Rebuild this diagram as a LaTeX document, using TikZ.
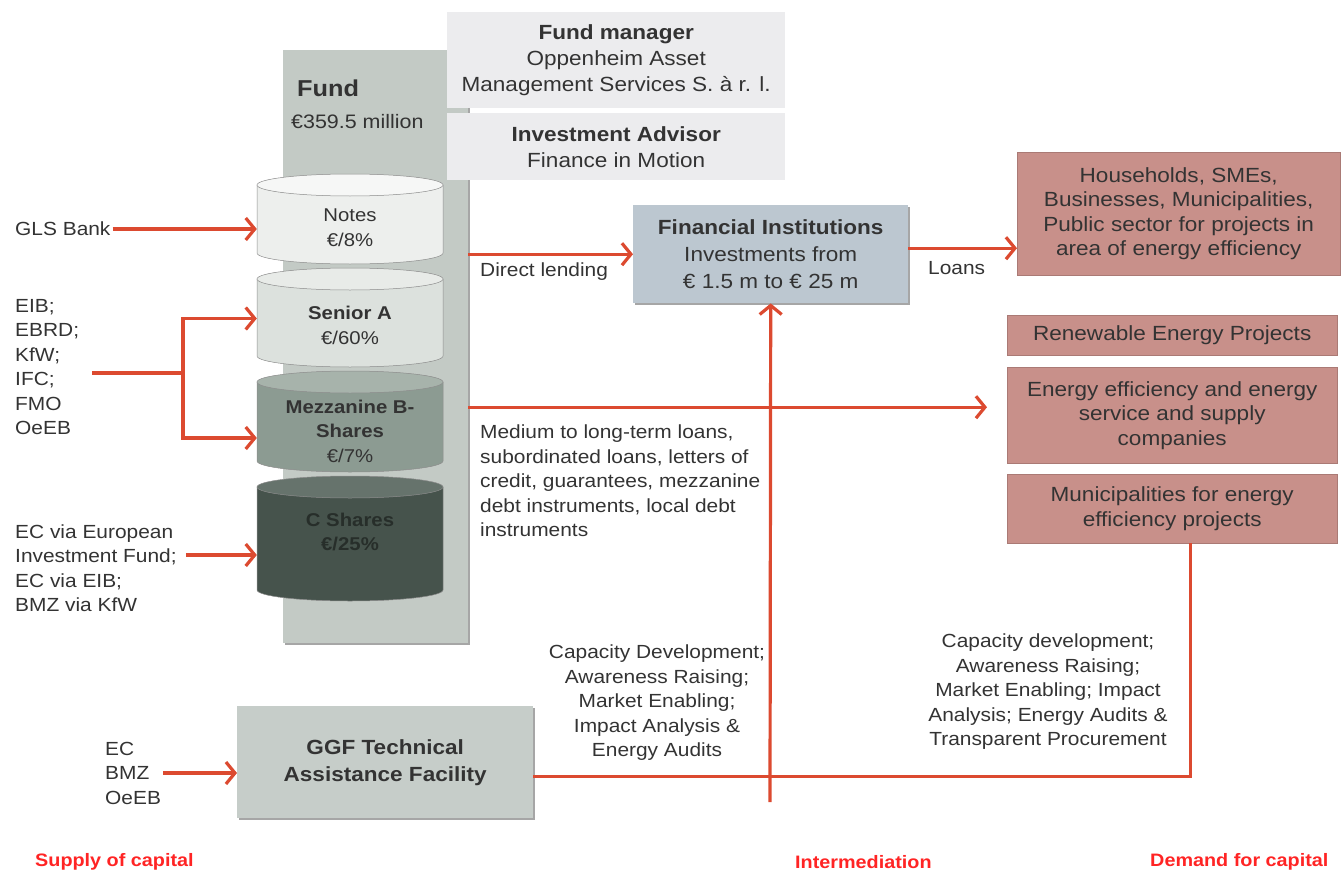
\documentclass[tikz,border=0pt]{standalone}
\usepackage{fontspec}
\setmainfont{Liberation Sans}[FakeStretch=1.1]
\usepackage{tikz}
\usetikzlibrary{arrows.meta, positioning, shadows}

\definecolor{arrowred}{HTML}{DC4A30}
\definecolor{headred}{HTML}{FF2424}
\definecolor{fundgray}{HTML}{C3CAC5}
\definecolor{mgrbox}{HTML}{ECECEE}
\definecolor{fiblue}{HTML}{BCC7D0}
\definecolor{tagray}{HTML}{C6CDC9}
\definecolor{demandrose}{HTML}{C8908A}
\definecolor{txt}{HTML}{333333}
\definecolor{notesbody}{HTML}{EDEFED}
\definecolor{noteslid}{HTML}{F6F7F6}
\definecolor{seniorbody}{HTML}{DCE1DD}
\definecolor{seniorlid}{HTML}{E8EBE8}
\definecolor{mezzbody}{HTML}{8C9B92}
\definecolor{mezzlid}{HTML}{A7B3AB}
\definecolor{cbody}{HTML}{46534C}
\definecolor{clid}{HTML}{66736C}

% drum of one tranche: top y, bottom y, body colour, lid colour
\newcommand{\drum}[4]{%
  \filldraw[drumline, fill=#3] (257,#1) -- (257,#2)
    arc[start angle=180, end angle=360, x radius=93pt, y radius=11pt] -- (443,#1) -- cycle;
  \filldraw[drumline, fill=#4] (350,#1) ellipse[x radius=93pt, y radius=11pt];
}

\begin{document}
\begin{tikzpicture}[x=1pt, y=-1pt,
    base/.style={inner sep=0pt, text=txt, font=\fontsize{19}{24.5}\selectfont},
    src/.style={base, align=left, anchor=west},
    note/.style={base, align=center},
    panel/.style={rectangle, anchor=north west, inner sep=0pt, align=center, text=txt},
    greybox/.style={panel, fill=mgrbox, minimum width=338pt, font=\fontsize{20.5}{26}\selectfont},
    demand/.style={panel, fill=demandrose, draw=demandrose!85!black, line width=0.4pt, font=\fontsize{20.5}{24.5}\selectfont},
    tranche/.style={base, align=center, minimum width=186pt, font=\fontsize{18.5}{24.5}\selectfont},
    heading/.style={anchor=west, inner sep=0pt, text=headred, font=\fontsize{18}{22}\selectfont\bfseries},
    redline/.style={draw=arrowred, line width=3.2pt},
    arrow/.style={redline, -{Straight Barb[length=9pt, width=22pt]}},
    drumline/.style={draw=black!45, line width=0.5pt},
    shade/.style={drop shadow={shadow xshift=2pt, shadow yshift=-2pt, fill=black, opacity=0.35}}
]
\useasboundingbox (0,0) rectangle (1343,872);

% Fund
\node[panel, fill=fundgray, minimum width=185pt, minimum height=593pt, shade] (fund) at (283,50) {};
\node[anchor=west, inner sep=0pt, text=txt, font=\fontsize{23}{26}\selectfont\bfseries] (fundlbl) at (297,88) {Fund};
\node[src, font=\fontsize{19.5}{24}\selectfont] (fundsize) at (291,122) {€359.5 million};

\node[greybox, minimum height=96pt] (manager) at (447,12) {\textbf{Fund manager}\\Oppenheim Asset\\Management Services S. à r. l.};
\node[greybox, minimum height=67pt] (advisor) at (447,113) {\textbf{Investment Advisor}\\Finance in Motion};

% Tranches
\drum{185}{253}{notesbody}{noteslid}
\drum{279}{356}{seniorbody}{seniorlid}
\drum{382}{461}{mezzbody}{mezzlid}
\drum{487}{590}{cbody}{clid}

\node[tranche] (notes) at (350,227.5) {Notes\\€/8\%};
\node[tranche] (seniorA) at (350,325.5) {\textbf{Senior A}\\€/60\%};
\node[tranche] (mezz) at (350,431) {\textbf{Mezzanine B-}\\\textbf{Shares}\\€/7\%};
\node[tranche, text=cbody!55!black] (cshares) at (350,532) {\textbf{C Shares}\\\textbf{€/25\%}};

% Supply side
\node[src] (gls) at (15,229) {GLS Bank};
\node[src] (lenders) at (15,367) {EIB;\\EBRD;\\KfW;\\IFC;\\FMO\\OeEB};
\node[src] (ecgroup) at (15,568) {EC via European\\Investment Fund;\\EC via EIB;\\BMZ via KfW};
\node[src] (tadonors) at (105,773) {EC\\BMZ\\OeEB};

% Intermediation
\node[panel, fill=fiblue, minimum width=275pt, minimum height=98pt, shade, font=\fontsize{20.5}{27}\selectfont] (fi) at (633,205) {\textbf{Financial Institutions}\\Investments from\\€ 1.5 m to € 25 m};
\node[panel, fill=tagray, minimum width=296pt, minimum height=112pt, shade, font=\fontsize{20.5}{27}\selectfont\bfseries] (ggf) at (237,706) {GGF Technical\\Assistance Facility};

% Demand side
\node[demand, minimum width=323pt, minimum height=123pt] (hh) at (1017,152) {Households, SMEs,\\Businesses, Municipalities,\\Public sector for projects in\\area of energy efficiency};
\node[demand, minimum width=330pt, minimum height=40pt] (renew) at (1007,315) {Renewable Energy Projects};
\node[demand, minimum width=330pt, minimum height=96pt] (eesc) at (1007,367) {Energy efficiency and energy\\service and supply\\companies};
\node[demand, minimum width=330pt, minimum height=69pt] (muni) at (1007,474) {Municipalities for energy\\efficiency projects};

% Labels
\node[src] (direct) at (480,272) {Direct lending};
\node[src] (loans) at (928,268) {Loans};
\node[src] (instruments) at (480,481) {Medium to long-term loans,\\subordinated loans, letters of\\credit, guarantees, mezzanine\\debt instruments, local debt\\instruments};
\node[note] (tafi) at (657,703) {Capacity Development;\\Awareness Raising;\\Market Enabling;\\Impact Analysis \&\\Energy Audits};
\node[note] (tademand) at (1048,692) {Capacity development;\\Awareness Raising;\\Market Enabling; Impact\\Analysis; Energy Audits \&\\Transparent Procurement};

\node[heading] (supply) at (35,862) {Supply of capital};
\node[heading] (intermed) at (795,862) {Intermediation};
\node[heading] (demandcap) at (1150,862) {Demand for capital};

% Connections
\draw[arrow, shorten <=2pt] (gls.east) -- (gls.east -| notes.west);

\coordinate (split) at (183,373);
\draw[redline] (lenders.east) ++(13pt,-6pt) -- (split);
\draw[arrow] (split) |- ([yshift=7pt]seniorA.west);
\draw[arrow] (split) |- ([yshift=-7pt]mezz.west);

\coordinate (cin) at ([yshift=-23pt]cshares.west);
\draw[arrow, shorten <=9pt] (cin -| ecgroup.east) -- (cin);

\draw[arrow, shorten <=2pt] (tadonors.east) -- (tadonors.east -| ggf.west);

\draw[arrow] (fi.west -| fund.east) -- (fi.west);
\coordinate (loansout) at ([yshift=6pt]fi.east);
\draw[arrow] (loansout) -- (loansout -| hh.west);
\coordinate (mezzout) at ([yshift=8pt]eesc.west);
\draw[arrow, shorten >=20pt] (mezzout -| fund.east) -- (mezzout);

\coordinate (tabase) at (770,802);
\draw[arrow] (tabase) -- (fi.south);
\draw[redline] ([yshift=-14pt]ggf.east) -| ([xshift=18pt]muni.south);

\end{tikzpicture}
\end{document}
